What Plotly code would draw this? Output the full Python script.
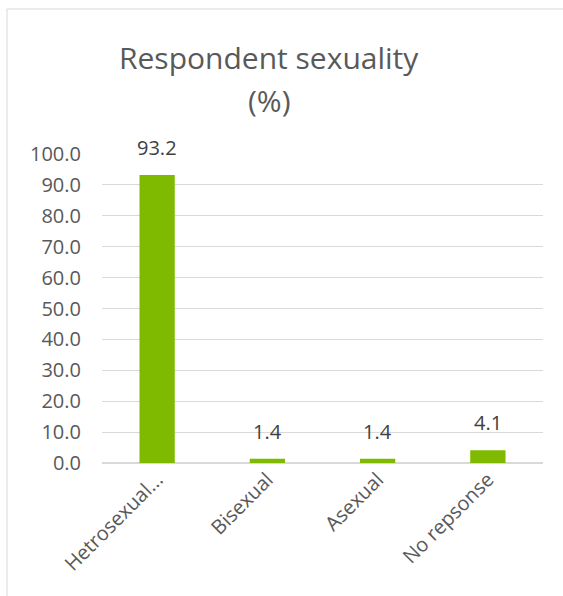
import plotly.graph_objects as go

categories = ["Hetrosexual...", "Bisexual", "Asexual", "No repsonse"]
values = [93.2, 1.4, 1.4, 4.1]
labels = ["93.2", "1.4", "1.4", "4.1"]
tick_vals = [0, 10, 20, 30, 40, 50, 60, 70, 80, 90, 100]
tick_text = ["0.0", "10.0", "20.0", "30.0", "40.0", "50.0", "60.0", "70.0", "80.0", "90.0", "100.0"]
title_lines = ["Respondent sexuality", "(%)"]

W, H = 563, 596
L, R, T, B = 102, 20, 154, 133
pw, ph = W - L - R, H - T - B

FONT = "Open Sans"
TXT = "#595959"

fig = go.Figure()
fig.add_trace(go.Bar(x=categories, y=values, marker=dict(color="#7FBA00", line=dict(width=0)),
                     width=0.32, hoverinfo="skip"))

for c, v, t in zip(categories, values, labels):
    fig.add_annotation(x=c, y=v, text=t, showarrow=False, yanchor="bottom", yshift=12,
                       font=dict(family=FONT, size=20, color="#404040"))

# title as two centred lines
for i, (line, cy) in enumerate(zip(title_lines, [57, 101])):
    fig.add_annotation(xref="paper", yref="paper", x=(269 - L) / pw, y=(H - B - cy) / ph,
                       xanchor="center", yanchor="middle", showarrow=False, text=line,
                       font=dict(family=FONT, size=30, color=TXT))

# outer chart border
fig.add_shape(type="rect", xref="paper", yref="paper",
              x0=(7 - L) / pw, x1=(W + 20 - L) / pw,
              y0=-(B + 20) / ph, y1=(H - B - 9) / ph,
              line=dict(color="#D9D9D9", width=1), fillcolor="rgba(0,0,0,0)", layer="below")

fig.update_layout(
    width=W, height=H,
    margin=dict(l=L, r=R, t=T, b=B),
    paper_bgcolor="white", plot_bgcolor="white",
    showlegend=False,
    font=dict(family=FONT, color=TXT),
    xaxis=dict(tickangle=-45, tickfont=dict(family=FONT, size=20, color=TXT),
               showgrid=False, showline=False, zeroline=False, ticks=""),
    yaxis=dict(range=[0, 100], tickvals=tick_vals, ticktext=tick_text,
               tickfont=dict(family=FONT, size=20, color=TXT),
               showgrid=True, gridcolor="#D9D9D9", gridwidth=1,
               zeroline=True, zerolinecolor="#D9D9D9", zerolinewidth=1.5,
               showline=False, ticks="", ticklabelstandoff=20),
)

fig.write_html("out.html")
